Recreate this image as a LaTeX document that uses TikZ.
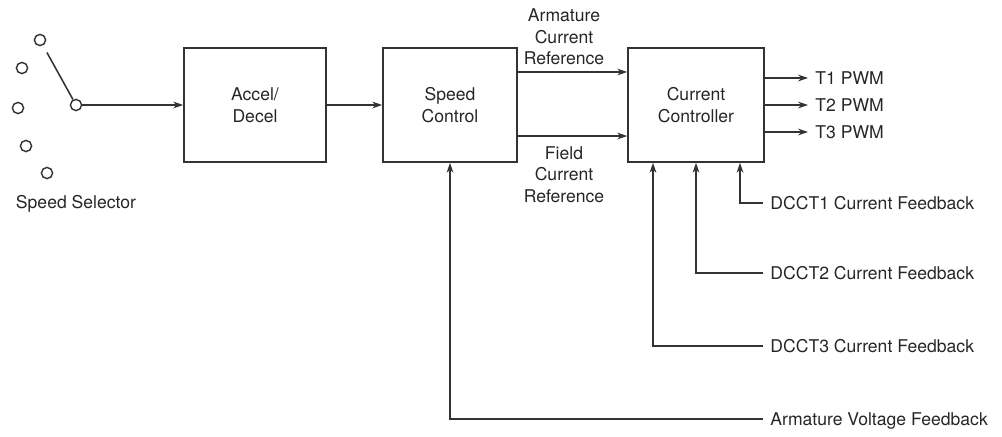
\documentclass[tikz,border=0pt]{standalone}
\usepackage{fontspec}
\setmainfont{TeX Gyre Heros}
\usetikzlibrary{arrows.meta}
\definecolor{ink}{gray}{0.2}
\tikzset{
  block/.style = {draw=ink, line width=1.1pt, minimum width=3.4cm, minimum height=2.85cm, align=center},
  contact/.style = {draw=ink, line width=1pt, circle, inner sep=0pt, minimum size=0.28cm},
  sig/.style = {draw=ink, line width=1.1pt, -{Stealth[length=0.25cm,width=0.17cm]}},
  tag/.style = {anchor=west, inner xsep=0.18cm, inner ysep=0pt, text depth=0pt},
  caption/.style = {anchor=north, inner sep=0pt, align=center}
}

\begin{document}
\begin{tikzpicture}[x=0.025cm, y=-0.025cm, font=\fontsize{12.5pt}{15.4pt}\selectfont, text=black!85]
        \useasboundingbox (0,0) rectangle (1002,436);
        % selector switch
        \node[contact] (c1) at (40,40) {};
        \node[contact] (c2) at (22,68) {};
        \node[contact] (c3) at (18,108) {};
        \node[contact] (c4) at (26,146) {};
        \node[contact] (c5) at (47,173) {};
        \node[contact] (pivot) at (76,105) {};
        \node[caption] (sel) at (76,195) {Speed Selector};
        \draw[ink, line width=1.1pt, shorten <=0.2cm] (c1) -- (pivot);
        % blocks
        \node[block, minimum width=3.55cm] (accel) at (255,105) {Accel/\\Decel};
        \node[block, minimum width=3.35cm] (speed) at (450,105) {Speed\\Control};
        \node[block] (cc) at (696,105) {Current\\Controller};
        \draw[sig] (pivot) -- (accel);
        \draw[sig] (accel) -- (speed);
        \draw[sig] ([yshift=0.825cm]speed.east) -- ([yshift=0.825cm]cc.west);
        \draw[sig] ([yshift=-0.775cm]speed.east) -- ([yshift=-0.775cm]cc.west);
        \node[caption] (aref) at (564,8.5) {Armature\\Current\\Reference};
        \node[caption] (fref) at (564,146) {Field\\Current\\Reference};
        % outputs
        \node[tag] (t1) at (808,78) {T1 PWM};
        \node[tag] (t2) at (808,105) {T2 PWM};
        \node[tag] (t3) at (808,132) {T3 PWM};
        \draw[sig] (cc.east |- t1) -- (t1);
        \draw[sig] (cc.east |- t2) -- (t2);
        \draw[sig] (cc.east |- t3) -- (t3);
        % feedback
        \node[tag] (fb1) at (763,203) {DCCT1 Current Feedback};
        \node[tag] (fb2) at (763,273) {DCCT2 Current Feedback};
        \node[tag] (fb3) at (763,346) {DCCT3 Current Feedback};
        \node[tag] (avf) at (763,419) {Armature Voltage Feedback};
        \draw[sig] (fb1.west) -| ([xshift=1.1cm]cc.south);
        \draw[sig] (fb2.west) -| (cc.south);
        \draw[sig] (fb3.west) -| ([xshift=-1.075cm]cc.south);
        \draw[sig] (avf.west) -| (speed.south);
\end{tikzpicture}
\end{document}
